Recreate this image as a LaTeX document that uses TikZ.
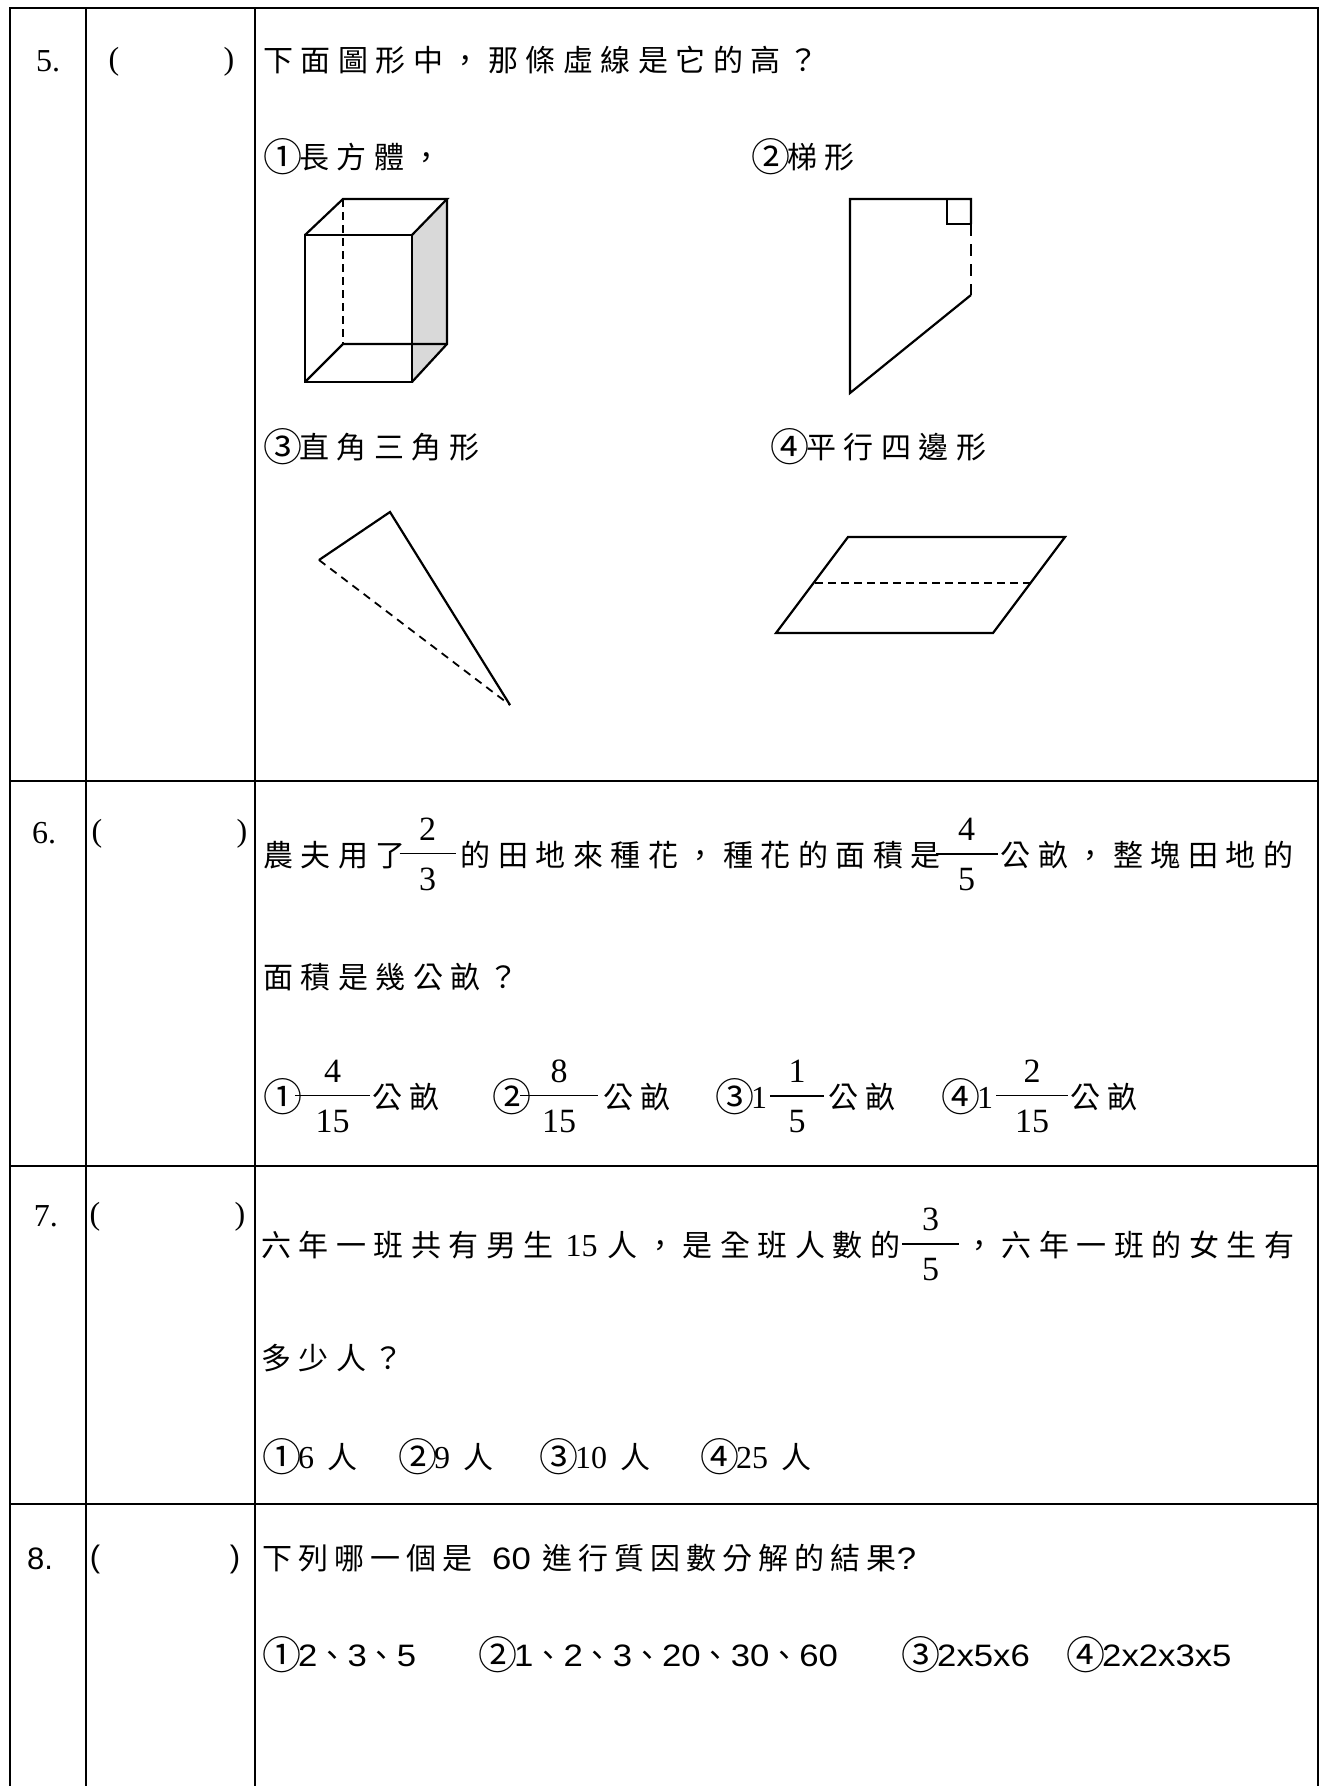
\documentclass[tikz,border=0pt]{standalone}
\usepackage{fontspec}
\setmainfont{Liberation Serif}
\setsansfont{Liberation Sans}
\newfontfamily\cjkA[LetterSpace=25]{Noto Sans CJK TC}
\newfontfamily\cjkB[LetterSpace=20]{Noto Sans CJK TC}
\newcommand\dg[1]{{\rmfamily\fontsize{32}{36}\selectfont #1}}
\newcommand\sd[1]{{\sffamily\fontsize{31}{36}\selectfont\scalebox{1.12}[1]{#1}}}
\newcommand\fd[1]{{\rmfamily\fontsize{34}{38}\selectfont #1}}
\newcommand\cn[1]{\makebox[36pt][l]{\raisebox{-3.5pt}{\scalebox{1.3}{#1}}}}
\newcommand\fr[3][56pt]{\lower24.8pt\vbox{\hbox to #1{\hfil\fd{#2}\hfil}\kern12pt\hrule height1.7pt\kern14pt\hbox to #1{\hfil\fd{#3}\hfil}}}
\begin{document}
\begin{tikzpicture}[x=1pt,y=-1pt,
  rule/.style={line width=2.3pt},
  colrule/.style={line width=1.7pt},
  fig/.style={line width=2.2pt,line join=miter},
  hgt/.style={line width=2pt,dash pattern=on 8pt off 5pt},
  qa/.style={anchor=base west,inner sep=0pt,font=\cjkA\fontsize{30}{36}\selectfont},
  qb/.style={anchor=base west,inner sep=0pt,font=\cjkB\fontsize{30}{36}\selectfont},
  lab/.style={anchor=base,inner sep=0pt,font=\rmfamily\fontsize{32}{36}\selectfont},
  labs/.style={anchor=base,inner sep=0pt,font=\sffamily\fontsize{31}{36}\selectfont}]
\useasboundingbox (0,0) rectangle (1327,1786);
\fill[white] (0,0) rectangle (1327,1786);
% table
\draw[rule] (10,1786) -- (10,8) -- (1318,8) -- (1318,1786);
\draw[rule] (10,781) -- (1318,781);
\draw[rule] (10,1166) -- (1318,1166);
\draw[rule] (10,1504) -- (1318,1504);
\draw[colrule] (86,8) -- (86,1786);
\draw[colrule] (255,8) -- (255,1786);
% row labels
\node[lab] (n5) at (48,71) {5.};
\node[lab] (o5) at (114,69) {(};
\node[lab] (c5) at (229,69) {)};
\node[lab] (n6) at (44,843) {6.};
\node[lab] (o6) at (97,841) {(};
\node[lab] (c6) at (242,841) {)};
\node[lab] (n7) at (46,1226) {7.};
\node[lab] (o7) at (95,1224) {(};
\node[lab] (c7) at (240,1224) {)};
\node[labs] (n8) at (40,1569) {8.};
\node[labs] (o8) at (95,1567) {(};
\node[labs] (c8) at (235,1567) {)};
% row 5 texts
\node[qa] (q5) at (263,71) {下面圖形中，那條虛線是它的高？};
\node[qa] (q5a) at (263,168) {\cn{①}長方體，};
\node[qa] (q5b) at (751,168) {\cn{②}梯形};
\node[qa] (q5c) at (263,458) {\cn{③}直角三角形};
\node[qa] (q5d) at (770,458) {\cn{④}平行四邊形};
% cuboid
\coordinate (fa) at (305,235); \coordinate (fb) at (412,235);
\coordinate (fc) at (412,382); \coordinate (fd) at (305,382);
\coordinate (ba) at (343,199); \coordinate (bb) at (447,199);
\coordinate (bc) at (447,344); \coordinate (bd) at (343,344);
\fill[gray!30] (fb) -- (bb) -- (bc) -- (fc) -- cycle;
\draw[fig] (fa) -- (fb) -- (fc) -- (fd) -- cycle;
\draw[fig] (fa) -- (ba) -- (bb) -- (fb);
\draw[fig] (bb) -- (bc) -- (fc);
\draw[fig] (fd) -- (bd) -- (bc);
\draw[hgt] (ba) -- (bd);
% trapezoid
\coordinate (ta) at (850,199); \coordinate (tb) at (971,199);
\coordinate (tc) at (971,295); \coordinate (td) at (850,393);
\coordinate (tm) at (971,224); \coordinate (tp) at (947,199);
\coordinate (tq) at (947,224);
\draw[fig] (tm) -- (tb) -- (ta) -- (td) -- (tc);
\draw[fig] (tp) -- (tq) -- (tm);
\draw[line width=2.6pt,dash pattern=on 12pt off 8pt] (tm) -- (tc);
% right triangle
\coordinate (ra) at (390,512); \coordinate (rb) at (319,560);
\coordinate (rc) at (510,705);
\draw[fig] (rb) -- (ra) -- (rc);
\draw[line width=1.8pt,dash pattern=on 8pt off 6pt] (rb) -- (rc);
% parallelogram
\coordinate (pa) at (848,537); \coordinate (pb) at (1065,537);
\coordinate (pc) at (993,633); \coordinate (pd) at (776,633);
\coordinate (pe) at (815,583); \coordinate (pf) at (1035,583);
\draw[fig] (pa) -- (pb) -- (pc) -- (pd) -- cycle;
\draw[line width=2pt,dash pattern=on 8pt off 5pt] (pe) -- (pf);
% row 6
\node[qa] (q6) at (263,866) {農夫用了\kern-6pt\fr[56pt]{2}{3}\kern5pt 的田地來種花，種花的面積是\kern-5pt\fr[62pt]{4}{5}\kern3pt 公畝，整塊田地的};
\node[qa] (q6b) at (263,988) {面積是幾公畝？};
\node[qa] (a61) at (263,1108) {\cn{①}\kern-4pt\fr[75pt]{4}{15}\kern2pt 公畝};
\node[qa] (a62) at (492,1108) {\cn{②}\kern-8pt\fr[78pt]{8}{15}\kern5pt 公畝};
\node[qa] (a63) at (715,1108) {\cn{③}\dg{1}\kern3pt\fr[54pt]{1}{5}\kern4pt 公畝};
\node[qa] (a64) at (941,1108) {\cn{④}\dg{1}\kern3pt\fr[72pt]{2}{15}\kern2pt 公畝};
% row 7
\node[qa] (q7) at (261,1256) {六年一班共有男生\kern12pt\dg{15}\kern10pt 人，是全班人數的\kern2pt\fr[57pt]{3}{5}\kern5pt ，六年一班的女生有};
\node[qa] (q7b) at (261,1369) {多少人？};
\node[qa] (a71) at (262,1468) {\cn{①}\dg{6}\kern13pt 人};
\node[qa] (a72) at (398,1468) {\cn{②}\dg{9}\kern13pt 人};
\node[qa] (a73) at (539,1468) {\cn{③}\dg{10}\kern13pt 人};
\node[qa] (a74) at (700,1468) {\cn{④}\dg{25}\kern13pt 人};
% row 8
\node[qb] (q8) at (262,1569) {下列哪一個是\kern20pt\sd{60}\kern12pt 進行質因數分解的結果\sd{?}};
\node[qb] (a81) at (262,1666) {\cn{①}\sd{2}、\sd{3}、\sd{5}};
\node[qb] (a82) at (478,1666) {\cn{②}\sd{1}、\sd{2}、\sd{3}、\sd{20}、\sd{30}、\sd{60}};
\node[qb] (a83) at (901,1666) {\cn{③}\sd{2x5x6}};
\node[qb] (a84) at (1066,1666) {\cn{④}\sd{2x2x3x5}};
\end{tikzpicture}
\end{document}
